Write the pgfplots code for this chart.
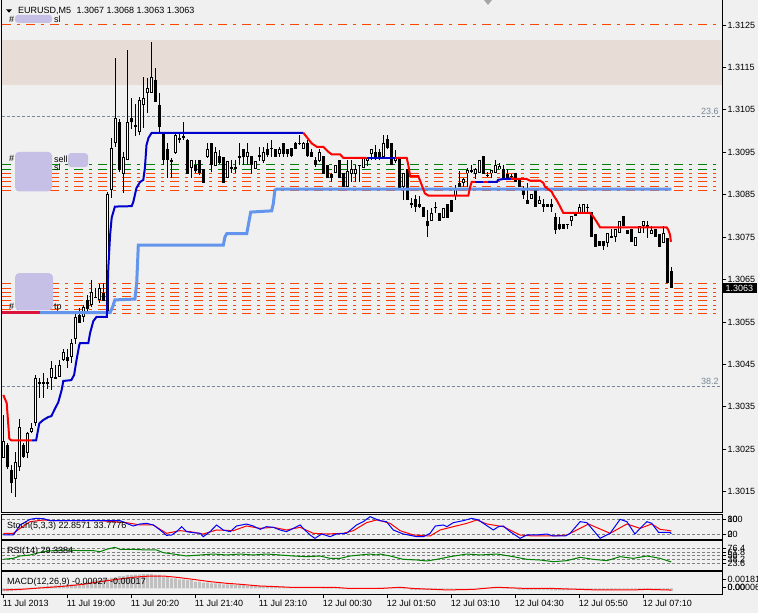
\documentclass[border=0pt]{standalone}
\usepackage{pgfplots}
\usepackage{pgfplotstable}
\pgfplotsset{compat=1.18}
\usepackage{fontspec}
\setmainfont{Liberation Sans}
\definecolor{bg}{RGB}{240,240,240}
\definecolor{band}{RGB}{232,220,214}
\definecolor{ored}{RGB}{255,69,0}
\definecolor{dgreen}{RGB}{0,128,0}
\definecolor{mblue}{RGB}{0,0,205}
\definecolor{cblue}{RGB}{100,149,237}
\definecolor{crim}{RGB}{220,20,60}
\definecolor{slate}{RGB}{119,136,153}
\definecolor{blob}{RGB}{198,192,230}
\definecolor{silv}{RGB}{192,192,192}
\newcommand{\tfont}{\fontsize{9}{10}\selectfont}

\pgfplotstableread{
i o h l c
0 1.30232 1.30331 1.30232 1.30272
1 1.30260 1.30265 1.30204 1.30208
2 1.30201 1.30213 1.30149 1.30171
3 1.30182 1.30244 1.30138 1.30220
4 1.30208 1.30324 1.30201 1.30303
5 1.30260 1.30265 1.30230 1.30232
6 1.30241 1.30291 1.30230 1.30288
7 1.30291 1.30312 1.30288 1.30300
8 1.30312 1.30425 1.30307 1.30420
9 1.30406 1.30418 1.30371 1.30409
10 1.30409 1.30430 1.30371 1.30406
11 1.30406 1.30420 1.30394 1.30409
12 1.30420 1.30460 1.30390 1.30442
13 1.30420 1.30449 1.30418 1.30418
14 1.30420 1.30460 1.30420 1.30449
15 1.30460 1.30489 1.30460 1.30479
16 1.30468 1.30489 1.30442 1.30460
17 1.30468 1.30510 1.30453 1.30500
18 1.30510 1.30574 1.30500 1.30562
19 1.30567 1.30583 1.30548 1.30550
20 1.30562 1.30590 1.30550 1.30585
21 1.30602 1.30614 1.30574 1.30581
22 1.30590 1.30649 1.30585 1.30621
23 1.30607 1.30630 1.30607 1.30609
24 1.30602 1.30642 1.30597 1.30630
25 1.30621 1.30642 1.30602 1.30602
26 1.30571 1.30856 1.30571 1.30852
27 1.30861 1.30984 1.30842 1.30959
28 1.30972 1.31172 1.30963 1.31031
29 1.31022 1.31031 1.30904 1.30908
30 1.30900 1.30951 1.30854 1.30939
31 1.30932 1.31191 1.30932 1.31022
32 1.31031 1.31080 1.31007 1.31022
33 1.31014 1.31066 1.30991 1.31012
34 1.30998 1.31080 1.30991 1.31073
35 1.31062 1.31127 1.31007 1.31080
36 1.31090 1.31127 1.31043 1.31102
37 1.31090 1.31210 1.31090 1.31127
38 1.31120 1.31149 1.31069 1.31069
39 1.31062 1.31090 1.30996 1.31010
40 1.30996 1.30998 1.30920 1.30932
41 1.30959 1.30972 1.30891 1.30932
42 1.30932 1.30937 1.30891 1.30930
43 1.30948 1.30998 1.30948 1.30991
44 1.30981 1.30998 1.30972 1.30984
45 1.30991 1.31022 1.30979 1.30984
46 1.30979 1.30981 1.30900 1.30900
47 1.30913 1.30932 1.30889 1.30932
48 1.30920 1.30932 1.30900 1.30908
49 1.30932 1.30932 1.30897 1.30900
50 1.30911 1.30911 1.30878 1.30878
51 1.30939 1.30972 1.30937 1.30959
52 1.30972 1.30972 1.30904 1.30920
53 1.30920 1.30963 1.30918 1.30951
54 1.30941 1.30956 1.30923 1.30925
55 1.30941 1.30941 1.30878 1.30878
56 1.30891 1.30930 1.30891 1.30930
57 1.30915 1.30932 1.30900 1.30913
58 1.30913 1.30932 1.30900 1.30915
59 1.30939 1.30972 1.30920 1.30941
60 1.30959 1.30959 1.30920 1.30939
61 1.30939 1.30972 1.30920 1.30951
62 1.30941 1.30941 1.30900 1.30920
63 1.30911 1.30932 1.30911 1.30932
64 1.30941 1.30963 1.30932 1.30944
65 1.30930 1.30963 1.30925 1.30951
66 1.30959 1.30972 1.30939 1.30944
67 1.30959 1.30981 1.30939 1.30961
68 1.30959 1.30959 1.30939 1.30939
69 1.30948 1.30963 1.30939 1.30959
70 1.30972 1.30972 1.30939 1.30948
71 1.30959 1.30959 1.30939 1.30948
72 1.30959 1.30959 1.30939 1.30941
73 1.30972 1.30974 1.30959 1.30959
74 1.30970 1.30991 1.30967 1.30972
75 1.30959 1.30974 1.30959 1.30972
76 1.30972 1.30979 1.30939 1.30941
77 1.30951 1.30959 1.30939 1.30941
78 1.30932 1.30939 1.30915 1.30920
79 1.30930 1.30959 1.30927 1.30951
80 1.30941 1.30941 1.30900 1.30900
81 1.30920 1.30920 1.30891 1.30891
82 1.30900 1.30900 1.30880 1.30891
83 1.30900 1.30920 1.30900 1.30920
84 1.30932 1.30932 1.30891 1.30891
85 1.30900 1.30900 1.30868 1.30868
86 1.30868 1.30932 1.30868 1.30908
87 1.30900 1.30932 1.30880 1.30911
88 1.30900 1.30920 1.30880 1.30911
89 1.30918 1.30920 1.30880 1.30920
90 1.30913 1.30939 1.30913 1.30939
91 1.30932 1.30939 1.30920 1.30939
92 1.30948 1.30959 1.30932 1.30959
93 1.30951 1.30967 1.30932 1.30939
94 1.30951 1.30959 1.30932 1.30939
95 1.30939 1.30991 1.30939 1.30972
96 1.30981 1.30991 1.30959 1.30959
97 1.30972 1.30972 1.30920 1.30920
98 1.30932 1.30956 1.30927 1.30939
99 1.30937 1.30937 1.30866 1.30866
100 1.30868 1.30900 1.30838 1.30900
101 1.30911 1.30911 1.30838 1.30838
102 1.30831 1.30842 1.30819 1.30829
103 1.30840 1.30849 1.30809 1.30821
104 1.30829 1.30849 1.30819 1.30821
105 1.30821 1.30821 1.30797 1.30797
106 1.30790 1.30814 1.30750 1.30778
107 1.30790 1.30821 1.30790 1.30809
108 1.30819 1.30833 1.30809 1.30821
109 1.30809 1.30809 1.30790 1.30790
110 1.30797 1.30819 1.30797 1.30819
111 1.30829 1.30829 1.30797 1.30797
112 1.30838 1.30838 1.30809 1.30809
113 1.30849 1.30873 1.30838 1.30866
114 1.30878 1.30908 1.30868 1.30868
115 1.30878 1.30891 1.30868 1.30889
116 1.30900 1.30913 1.30868 1.30908
117 1.30906 1.30920 1.30900 1.30908
118 1.30900 1.30913 1.30889 1.30911
119 1.30900 1.30932 1.30900 1.30932
120 1.30941 1.30941 1.30900 1.30900
121 1.30897 1.30904 1.30891 1.30895
122 1.30900 1.30908 1.30889 1.30908
123 1.30900 1.30932 1.30900 1.30920
124 1.30911 1.30925 1.30911 1.30920
125 1.30911 1.30920 1.30891 1.30891
126 1.30900 1.30911 1.30889 1.30889
127 1.30893 1.30900 1.30891 1.30895
128 1.30900 1.30900 1.30880 1.30880
129 1.30889 1.30889 1.30868 1.30868
130 1.30861 1.30871 1.30840 1.30849
131 1.30840 1.30880 1.30829 1.30829
132 1.30840 1.30852 1.30840 1.30852
133 1.30861 1.30861 1.30821 1.30821
134 1.30829 1.30849 1.30829 1.30840
135 1.30829 1.30840 1.30809 1.30821
136 1.30829 1.30829 1.30821 1.30821
137 1.30829 1.30840 1.30809 1.30821
138 1.30800 1.30809 1.30760 1.30769
139 1.30781 1.30800 1.30769 1.30769
140 1.30781 1.30781 1.30769 1.30769
141 1.30779 1.30781 1.30769 1.30781
142 1.30788 1.30800 1.30778 1.30800
143 1.30809 1.30809 1.30800 1.30800
144 1.30809 1.30829 1.30809 1.30821
145 1.30809 1.30829 1.30809 1.30829
146 1.30819 1.30829 1.30809 1.30821
147 1.30809 1.30809 1.30750 1.30750
148 1.30760 1.30760 1.30729 1.30729
149 1.30741 1.30741 1.30729 1.30729
150 1.30741 1.30741 1.30720 1.30729
151 1.30738 1.30760 1.30729 1.30760
152 1.30752 1.30769 1.30750 1.30750
153 1.30750 1.30769 1.30738 1.30769
154 1.30760 1.30788 1.30760 1.30788
155 1.30800 1.30800 1.30778 1.30778
156 1.30769 1.30769 1.30760 1.30760
157 1.30769 1.30769 1.30738 1.30738
158 1.30729 1.30750 1.30729 1.30750
159 1.30760 1.30778 1.30760 1.30778
160 1.30778 1.30788 1.30760 1.30788
161 1.30776 1.30788 1.30750 1.30778
162 1.30760 1.30778 1.30760 1.30769
163 1.30769 1.30769 1.30750 1.30750
164 1.30760 1.30760 1.30729 1.30729
165 1.30738 1.30778 1.30738 1.30760
166 1.30750 1.30750 1.30642 1.30642
167 1.30670 1.30680 1.30630 1.30630
}\candles

\pgfplotsset{
  panel/.style={scale only axis, width=720pt, xmin=-0.325, xmax=179.675,
    anchor=south west, axis line style={draw=none}, xtick=\empty,
    ytick pos=right, yticklabel pos=right, tick align=outside,
    major tick length=4pt, tick style={black, line width=0.8pt},
    tick label style={font=\tfont}, yticklabel style={inner xsep=1.5pt},
    scaled y ticks=false, clip=false},
  hl/.style={line width=1pt, dash pattern=on 9pt off 6pt on 3pt off 6pt},
  lvl/.style={gray, line width=0.8pt, dash pattern=on 3pt off 2pt},
}

\begin{document}
\begin{tikzpicture}[x=1pt,y=1pt]
\useasboundingbox (0,0) rectangle (758,613);
\fill[bg] (0,0) rectangle (758,613);

% ---------------- main price panel
\begin{axis}[panel, at={(2pt,100pt)}, height=513pt,
  ymin=1.300998, ymax=1.313089,
  ytick={1.3015,1.3025,1.3035,1.3045,1.3055,1.3065,1.3075,1.3085,1.3095,1.3105,1.3115,1.3125},
  yticklabels={1.3015,1.3025,1.3035,1.3045,1.3055,1.3065,1.3075,1.3085,1.3095,1.3105,1.3115,1.3125}]
\fill[band] (axis cs:-0.325,1.31108) rectangle (axis cs:179.675,1.31215);
\addplot[ored, hl] coordinates {(-0.325,1.3125) (179.675,1.3125)};
\addplot[slate, line width=0.8pt, dash pattern=on 3pt off 2pt] coordinates {(-0.325,1.31034) (179.675,1.31034)};
\addplot[slate, line width=0.8pt, dash pattern=on 3pt off 2pt] coordinates {(-0.325,1.30398) (179.675,1.30398)};
\node[anchor=base east, text=slate, font=\tfont, inner sep=0pt] at (axis cs:178.9,1.31038) {23.6};
\node[anchor=base east, text=slate, font=\tfont, inner sep=0pt] at (axis cs:178.9,1.30402) {38.2};
% order levels
\addplot[dgreen, hl] coordinates {(-0.325,1.3092) (179.675,1.3092)};
\addplot[dgreen, hl] coordinates {(-0.325,1.3091) (179.675,1.3091)};
\addplot[ored, hl] coordinates {(-0.325,1.3090) (179.675,1.3090)};
\addplot[ored, hl] coordinates {(-0.325,1.3089) (179.675,1.3089)};
\addplot[ored, hl] coordinates {(-0.325,1.3088) (179.675,1.3088)};
\addplot[ored, hl] coordinates {(-0.325,1.3087) (179.675,1.3087)};
\addplot[ored, hl] coordinates {(-0.325,1.3086) (179.675,1.3086)};
\addplot[ored, hl] coordinates {(-0.325,1.3064) (179.675,1.3064)};
\addplot[ored, hl] coordinates {(-0.325,1.3063) (179.675,1.3063)};
\addplot[ored, hl] coordinates {(-0.325,1.3062) (179.675,1.3062)};
\addplot[ored, hl] coordinates {(-0.325,1.3061) (179.675,1.3061)};
\addplot[ored, hl] coordinates {(-0.325,1.3060) (179.675,1.3060)};
\addplot[ored, hl] coordinates {(-0.325,1.3059) (179.675,1.3059)};
\addplot[ored, hl] coordinates {(-0.325,1.3058) (179.675,1.3058)};
\addplot[ored, hl] coordinates {(-0.325,1.3057) (179.675,1.3057)};
% redaction blobs
\fill[blob, rounded corners=3pt] (axis cs:2.93,1.31274) rectangle (axis cs:12.18,1.31255);
\fill[blob, rounded corners=4pt] (axis cs:2.93,1.30951) rectangle (axis cs:12.18,1.30858);
\fill[blob, rounded corners=3pt] (axis cs:16.18,1.30948) rectangle (axis cs:21.18,1.30915);
\fill[blob, rounded corners=4pt] (axis cs:2.93,1.30665) rectangle (axis cs:12.43,1.30578);
% candles: wicks, bodies, hollow interiors
\addplot[mark=none, draw=none, forget plot, error bars/.cd, y dir=both, y explicit, error mark=none,
  error bar style={draw=black, line width=1pt, solid}]
  table[x=i, y expr={(\thisrow{h}+\thisrow{l})/2}, y error expr={(\thisrow{h}-\thisrow{l})/2}] {\candles};
\addplot[mark=none, draw=none, forget plot, error bars/.cd, y dir=both, y explicit, error mark=none,
  error bar style={draw=black, line width=3pt, solid}]
  table[x=i, y expr={(\thisrow{o}+\thisrow{c})/2}, y error expr={max(abs(\thisrow{o}-\thisrow{c})/2,0.0000118)}] {\candles};
\addplot[mark=none, draw=none, forget plot, error bars/.cd, y dir=both, y explicit, error mark=none,
  error bar style={draw=white, line width=1pt, solid}]
  table[x=i, y expr={(\thisrow{o}+\thisrow{c})/2}, y error expr={\thisrow{c}>\thisrow{o} ? max((\thisrow{c}-\thisrow{o})/2-0.0000236,0) : 0}] {\candles};
% crimson and light-blue lines
\addplot[crim, line width=3pt] coordinates {(-0.325,1.30572) (9.2,1.30572)};
\addplot[cblue, line width=3pt] coordinates {(9.2,1.30572) (26.7,1.30572) (27.35,1.30586) (27.9,1.30602) (32.9,1.30604) (33.35,1.30641) (33.75,1.30731) (55,1.30731) (55.4,1.30750) (55.85,1.30758) (60.85,1.30758) (61.25,1.30778) (61.85,1.30809) (67.1,1.30812) (67.5,1.30829) (67.9,1.30861) (68.35,1.30863) (167,1.30863)};
% trailing line: red / blue segments
\addplot[red, line width=2pt] coordinates {(0,1.30378) (0.85,1.30359) (1.5,1.30275) (2,1.30271) (7.1,1.30271)};
\addplot[mblue, line width=2pt] coordinates {(7.1,1.30271) (8.2,1.30271) (9,1.30311) (10,1.30319) (11.25,1.30326) (12,1.30328) (13,1.30347) (13.75,1.30361) (14.6,1.30390) (15,1.30411) (17,1.30413) (17.7,1.30425) (18.3,1.30460) (19,1.30496) (19.2,1.30500) (21.25,1.30500) (21.7,1.30524) (22.5,1.30552) (23.3,1.30562) (25.9,1.30562) (26.25,1.30677) (26.7,1.30755) (27.1,1.30796) (27.9,1.30822) (32.1,1.30823) (32.5,1.30833) (33.3,1.30866) (34.2,1.30880) (35,1.30885) (35.4,1.30913) (35.8,1.30967) (36.3,1.30984) (37.1,1.30996) (75,1.30996)};
\addplot[red, line width=2pt] coordinates {(75,1.30996) (77.1,1.30971) (78.35,1.30963) (80,1.30963) (81.25,1.30951) (82.1,1.30945) (84.2,1.30945) (85,1.30937) (90.85,1.30937)};
\addplot[mblue, line width=2pt] coordinates {(90.85,1.30937) (97.9,1.30937)};
\addplot[red, line width=2pt] coordinates {(97.9,1.30937) (100.85,1.30937) (101.25,1.30920) (101.7,1.30894) (103.75,1.30894) (104.6,1.30873) (105.4,1.30853) (106.25,1.30848) (116.25,1.30848) (116.7,1.30868) (117.1,1.30880) (117.9,1.30880)};
\addplot[mblue, line width=2pt] coordinates {(117.9,1.30880) (119.9,1.30880)};
\addplot[red, line width=2pt] coordinates {(119.9,1.30880) (121.2,1.30880)};
\addplot[mblue, line width=2pt] coordinates {(121.2,1.30880) (123.4,1.30880) (123.7,1.30885) (125,1.30887) (127.1,1.30887)};
\addplot[red, line width=2pt] coordinates {(127.1,1.30887) (130.85,1.30887) (131.7,1.30883) (134.2,1.30883) (135,1.30878) (135.4,1.30869) (137.1,1.30857) (137.5,1.30849) (138.35,1.30837) (139.2,1.30822) (140,1.30807) (146.7,1.30807) (147.5,1.30798) (148.35,1.30786) (149.2,1.30773) (165.85,1.30773) (166.25,1.30767) (166.7,1.30755) (166.9,1.30739)};
% frame and price box
\draw[black, line width=1pt] (rel axis cs:0,1) -- (rel axis cs:0,0) -- (rel axis cs:1,0) -- (rel axis cs:1,1);
\node[fill=black, text=white, font=\tfont, anchor=west, inner xsep=3.5pt, inner ysep=1.5pt, minimum height=10pt] at (axis cs:179.675,1.3063) {1.3063};
\end{axis}

% ---------------- Stochastic
\begin{axis}[panel, at={(2pt,73.7pt)}, height=24.3pt, ymin=0, ymax=100,
  ytick={20,80}, yticklabels={{\rlap{0}20},{\rlap{100}80}}]
\addplot[lvl] coordinates {(-0.325,80) (179.675,80)};
\addplot[lvl] coordinates {(-0.325,20) (179.675,20)};
\addplot[red, line width=1pt] coordinates {(0,24.6) (2.5,24.6) (4.2,45.1) (6.7,72.6) (10,79.4) (12.5,76.7) (24.2,76.7) (30.8,68.5) (34.2,58.9) (37.5,58.9) (40.8,24.6) (44.2,35.5) (46.7,31.4) (50,21.8) (53.3,38.3) (57.5,35.5) (60.8,54.7) (64.2,45.1) (67.5,49.3) (70.8,38.3) (74.2,49.3) (77.5,24.6) (80.8,21.8) (85,24.6) (87.5,35.5) (90.8,68.5) (93.3,79.4) (94.2,76.7) (96.7,65.7) (99.2,35.5) (102.5,17.7) (106.7,13.6) (109.2,38.3) (112.5,52.0) (115.9,65.7) (118.4,79.4) (120.9,62.9) (125,52.0) (129.2,17.7) (132.5,13.6) (137.5,13.6) (140.9,17.7) (144.2,45.1) (146.3,62.9) (151.7,24.6) (155.9,62.9) (159.2,45.1) (162.1,62.9) (164.2,41.0) (166.7,35.5) (167,33.8)};
\addplot[blue, line width=1pt] coordinates {(0,17.7) (2.5,17.7) (4.2,58.9) (6.7,82.2) (8.3,86.3) (10,84.9) (11.7,76.7) (24.2,76.7) (29.2,76.7) (30.8,65.7) (32.5,54.7) (34.2,62.9) (35.8,65.7) (37.5,58.9) (39.2,38.3) (40.8,16.3) (42.1,17.7) (43.3,31.4) (44.6,52.0) (45.8,31.4) (47.5,27.3) (49.2,24.6) (50,10.8) (51.7,31.4) (53.3,58.9) (55,38.3) (56.7,31.4) (58.3,54.7) (60.8,62.9) (62.5,54.7) (64.2,41.0) (65.8,52.0) (67.5,49.3) (69.2,38.3) (70.8,31.4) (72.5,45.1) (74.2,58.9) (75.4,38.3) (76.7,17.7) (77.9,4.0) (79.6,21.8) (81.7,10.8) (83.3,21.8) (85.8,24.6) (88.3,58.9) (90,72.6) (91.7,93.2) (93.3,82.2) (94.2,76.7) (95.8,72.6) (97.5,38.3) (100,21.8) (103.4,10.8) (105,10.8) (106.7,24.6) (108,54.7) (110,58.9) (110.9,52.0) (112.5,68.5) (115,76.7) (117.1,86.3) (118.8,79.4) (120,65.7) (122.5,38.3) (123.8,52.0) (125,54.7) (126.7,31.4) (129.2,4.0) (130.9,17.7) (133.4,17.7) (135.9,21.8) (137.5,13.6) (140.5,13.6) (141.7,24.6) (144.2,72.6) (145.9,68.5) (149.2,4.0) (151.7,24.6) (154.2,82.2) (155.9,72.6) (157.9,21.8) (159.2,45.1) (160.9,72.6) (162.1,65.7) (163.8,28.7) (166.7,28.7) (167,22.9)};
\draw[black, line width=1pt] (rel axis cs:0,0) rectangle (rel axis cs:1,1);
\end{axis}

% ---------------- RSI
\begin{axis}[panel, at={(2pt,42.3pt)}, height=29.7pt, ymin=0, ymax=100,
  ytick={23.6,38.2,50,61.8,76.4}, yticklabels={23.6,38.2,50,61.8,76.4}]
\addplot[lvl] coordinates {(-0.325,76.4) (179.675,76.4)};
\addplot[lvl] coordinates {(-0.325,61.8) (179.675,61.8)};
\addplot[lvl] coordinates {(-0.325,50) (179.675,50)};
\addplot[lvl] coordinates {(-0.325,38.2) (179.675,38.2)};
\addplot[lvl] coordinates {(-0.325,23.6) (179.675,23.6)};
\addplot[dgreen, line width=1pt] coordinates {(0,38.3) (2.5,41.6) (4.2,49.5) (6.7,52.9) (8.3,58.5) (10,64.1) (12.5,67.5) (15.8,69.7) (19.2,67.5) (22.5,67.5) (24.2,64.1) (25.8,71.9) (27.9,78.7) (29.2,71.9) (32.5,71.9) (35.8,69.7) (38.3,69.7) (40,60.7) (42.5,56.2) (45.8,49.5) (49.2,52.9) (52.5,56.2) (55.8,52.9) (59.2,56.2) (62.5,52.9) (65.8,56.2) (69.2,52.9) (72.5,49.5) (75.8,47.2) (79.2,49.5) (81.7,41.6) (84.2,41.6) (86.7,49.5) (89.2,52.9) (91.7,56.2) (93.3,52.9) (94.2,56.2) (96.7,49.5) (100,38.3) (103.4,36.0) (105.9,32.7) (108.4,38.3) (111.7,47.2) (115.9,56.2) (119.2,52.9) (123.4,56.2) (127.5,47.2) (130.9,38.3) (134.2,36.0) (137.5,30.4) (140.9,33.8) (144.2,45.0) (147.5,38.3) (150.9,33.8) (154.2,47.2) (157.5,41.6) (160.9,49.5) (164.2,41.6) (167,29.3)};
\draw[black, line width=1pt] (rel axis cs:0,0) rectangle (rel axis cs:1,1);
\end{axis}

% ---------------- MACD
\begin{axis}[panel, at={(2pt,18.7pt)}, height=22.3pt, ymin=-0.00064, ymax=0.00181,
  ytick={0.00101,0.000165}, yticklabels={0.00181,{\rlap{0.00}0.00006}},
  xtick={0,16,32,48,64,80,96,112,128,144,160}, xtick pos=left,
  xticklabels={11 Jul 2013,11 Jul 19:00,11 Jul 20:20,11 Jul 21:40,11 Jul 23:10,12 Jul 00:30,12 Jul 01:50,12 Jul 03:10,12 Jul 04:30,12 Jul 05:50,12 Jul 07:10},
  xticklabel style={anchor=north west, inner xsep=0pt, inner ysep=1pt, xshift=-0.7pt}]
\addplot[ybar, bar width=3pt, bar shift=0pt, fill=silv, draw=none] coordinates {
(0,-0.00030) (1,-0.00030) (2,-0.00030) (3,-0.00020) (4,-0.00020) (5,-0.00010) (6,-0.00010) (7,0.00010) (8,0.00010) (9,0.00020)
(10,0.00020) (11,0.00027) (12,0.00027) (13,0.00035) (14,0.00035) (15,0.00035) (16,0.00045) (17,0.00045) (18,0.00045) (19,0.00055)
(20,0.00055) (21,0.00075) (22,0.00075) (23,0.00093) (24,0.00093) (25,0.00105) (26,0.00105) (27,0.00120) (28,0.00120) (29,0.00137)
(30,0.00137) (31,0.00148) (32,0.00148) (33,0.00152) (34,0.00152) (35,0.00159) (36,0.00159) (37,0.00159) (38,0.00150) (39,0.00150)
(40,0.00130) (41,0.00130) (42,0.00112) (43,0.00112) (44,0.00100) (45,0.00100) (46,0.00093) (47,0.00093) (48,0.00075) (49,0.00075)
(50,0.00065) (51,0.00065) (52,0.00057) (53,0.00057) (54,0.00057) (55,0.00045) (56,0.00045) (57,0.00045) (58,0.00038) (59,0.00038)
(60,0.00038) (61,0.00030) (62,0.00030) (63,0.00030) (64,0.00025) (65,0.00025) (66,0.00025) (67,0.00020) (68,0.00020) (69,0.00020)
(70,0.00020) (71,0.00013) (72,0.00013) (73,0.00013) (74,0.00013) (75,0.00008) (76,0.00008) (77,0.00008) (78,0.00008) (79,0.00008)
(80,-0.00005) (81,-0.00005) (82,-0.00005) (83,-0.00005) (84,-0.00005) (85,-0.00008) (86,-0.00008) (87,-0.00008) (88,-0.00008) (89,0.00005)
(90,0.00005) (91,0.00005) (92,0.00005) (93,0.00005) (94,0.00008) (95,0.00008) (96,0.00008) (97,0.00008) (98,0.00008) (99,-0.00005)
(100,-0.00005) (101,-0.00005) (102,-0.00015) (103,-0.00015) (104,-0.00015) (105,-0.00015) (106,-0.00015) (107,-0.00015) (108,-0.00008) (109,-0.00008)
(110,-0.00008) (111,-0.00008) (112,-0.00008) (113,0.00005) (114,0.00005) (115,0.00005) (116,0.00005) (117,0.00005) (118,0.00005) (119,0.00010)
(120,0.00010) (121,0.00010) (122,0.00010) (123,0.00005) (124,0.00005) (125,0.00005) (126,-0.00005) (127,-0.00005) (128,-0.00005) (129,-0.00015)
(130,-0.00015) (131,-0.00015) (132,-0.00015) (133,-0.00015) (134,-0.00015) (135,-0.00015) (136,-0.00015) (137,-0.00020) (138,-0.00020) (139,-0.00020)
(140,-0.00020) (141,-0.00020) (142,-0.00010) (143,-0.00010) (144,-0.00010) (145,-0.00010) (146,-0.00010) (147,-0.00015) (148,-0.00015) (149,-0.00015)
(150,-0.00015) (151,-0.00015) (152,-0.00015) (153,-0.00010) (154,-0.00010) (155,-0.00010) (156,-0.00010) (157,-0.00010) (158,-0.00010) (159,-0.00008)
(160,-0.00008) (161,-0.00008) (162,-0.00008) (163,-0.00008) (164,-0.00012) (165,-0.00012) (166,-0.00018) (167,-0.00027)};
\addplot[red, line width=1pt] coordinates {(0,-0.00016) (4.2,-0.0001) (7.5,0) (11.7,0.00013) (15.8,0.00027) (20,0.00046) (24.2,0.00075) (28.3,0.001) (32.5,0.00123) (36.7,0.00137) (40,0.00137) (43.3,0.00123) (47.5,0.001) (51.7,0.00075) (55.8,0.00057) (59.2,0.00046) (64.2,0.00027) (68.3,0.0002) (71.7,0.00013) (78.3,0.00013) (82.5,0.00013) (86.7,0) (94.2,0) (99.2,0.00013) (102.5,0) (110.9,-0.00016) (117.5,-0.0001) (123.4,0.00013) (130.9,0) (137.5,0) (144.2,-0.0001) (148.4,-0.00016) (157.5,-0.00016) (160.9,-0.0001) (166.7,-0.00017) (167,-0.00017)};
\draw[black, line width=1pt] (rel axis cs:0,0) rectangle (rel axis cs:1,1);
\end{axis}

% ---------------- texts and decorations
\fill[black] (6,603.7) -- (12,603.7) -- (9,600.3) -- cycle;
\fill[gray!70] (484,613) -- (492,613) -- (488,608) -- cycle;
\node[anchor=base west, inner sep=0pt, font=\tfont] at (18,599) {EURUSD,M5\hspace{3pt} 1.3067 1.3068 1.3063 1.3063};
\node[anchor=base west, inner sep=0pt, font=\tfont] at (9,590.5) {\#};
\node[anchor=base west, inner sep=0pt, font=\tfont] at (54,590.5) {sl};
\node[anchor=base west, inner sep=0pt, font=\tfont] at (54,450) {sell};
\node[anchor=base west, inner sep=0pt, font=\tfont] at (54,442) {sl};
\node[anchor=base west, inner sep=0pt, font=\tfont] at (54,303) {tp};
\node[anchor=base west, inner sep=0pt, font=\tfont] at (9,451) {\#};
\node[anchor=base west, inner sep=0pt, font=\tfont] at (9,303) {\#};
\node[anchor=base west, inner sep=0pt, font=\tfont] at (7,84.8) {Stoch(5,3,3) 22.8571 33.7776};
\node[anchor=base west, inner sep=0pt, font=\tfont] at (7,59.1) {RSI(14) 29.3384};
\node[anchor=base west, inner sep=0pt, font=\tfont] at (7,28.8) {MACD(12,26,9) -0.00027 -0.00017};
\end{tikzpicture}
\end{document}
